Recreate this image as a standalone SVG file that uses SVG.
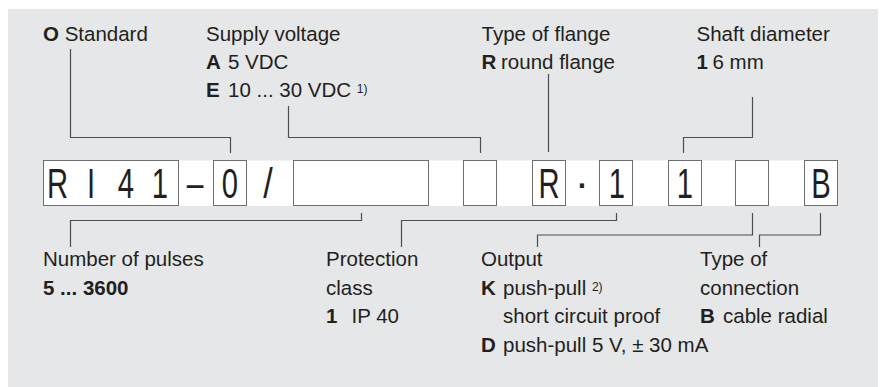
<svg xmlns="http://www.w3.org/2000/svg" width="882" height="387" viewBox="0 0 882 387">
<style>
text{font-family:"Liberation Sans",Arial,sans-serif;fill:#231f20}
.t{font-size:20.5px}
.b{font-weight:bold}
.sup{font-size:12px}
.big{font-size:43px;text-anchor:middle}
.box{fill:#fff;stroke:#6d6e70;stroke-width:1}
.ln{fill:none;stroke:#4d4d4f;stroke-width:1.2}
</style>
<rect x="8" y="9" width="870" height="378" fill="#e6e7e8"/>
<rect x="43" y="160.5" width="795" height="45.5" fill="#fff"/>

<g id="code">
  <g id="box-ri41">
    <rect class="box" x="43.5" y="160.5" width="135" height="45"/>
    <text class="big" transform="translate(57.5,198) scale(0.68,1)">R</text>
    <text class="big" transform="translate(91,198) scale(0.68,1)">I</text>
    <text class="big" transform="translate(126,198) scale(0.68,1)">4</text>
    <text class="big" transform="translate(160,198) scale(0.68,1)">1</text>
  </g>
  <text class="big" transform="translate(195,197) scale(0.75,1)" style="font-size:40px">–</text>
  <g id="box-0">
    <rect class="box" x="213.5" y="160.5" width="33" height="45"/>
    <text class="big" transform="translate(230,198) scale(0.68,1)">0</text>
  </g>
  <text class="big" transform="translate(268,198) scale(0.8,1)">/</text>
  <g id="box-pulses">
    <rect class="box" x="293.5" y="160.5" width="135" height="45"/>
  </g>
  <g id="box-supply">
    <rect class="box" x="463.5" y="160.5" width="33" height="45"/>
  </g>
  <g id="box-flange">
    <rect class="box" x="532.5" y="160.5" width="33" height="45"/>
    <text class="big" transform="translate(549,198) scale(0.68,1)">R</text>
  </g>
  <text class="big" x="582" y="197">·</text>
  <g id="box-protection">
    <rect class="box" x="599.5" y="160.5" width="33" height="45"/>
    <text class="big" transform="translate(617,198) scale(0.68,1)">1</text>
  </g>
  <g id="box-shaft">
    <rect class="box" x="668.5" y="160.5" width="33" height="45"/>
    <text class="big" transform="translate(685,198) scale(0.68,1)">1</text>
  </g>
  <g id="box-output">
    <rect class="box" x="735.5" y="160.5" width="33" height="45"/>
  </g>
  <g id="box-connection">
    <rect class="box" x="804.5" y="160.5" width="33" height="45"/>
    <text class="big" transform="translate(821,198) scale(0.68,1)">B</text>
  </g>
</g>

<g id="connectors">
  <polyline class="ln" points="70.5,49 70.5,137.5 230.5,137.5 230.5,153"/>
  <polyline class="ln" points="288.5,106 288.5,137.5 480.5,137.5 480.5,153"/>
  <polyline class="ln" points="548.5,74 548.5,152"/>
  <polyline class="ln" points="752.5,97 752.5,137.5 683.5,137.5 683.5,153"/>
  <polyline class="ln" points="361.5,213 361.5,220.5 70.5,220.5 70.5,247"/>
  <polyline class="ln" points="616.5,213 616.5,220.5 401.5,220.5 401.5,247"/>
  <polyline class="ln" points="752.5,213 752.5,235 537.5,235 537.5,247"/>
  <polyline class="ln" points="820.5,213 820.5,235 759.5,235 759.5,247"/>
</g>

<g id="label-standard">
  <text class="t" x="43" y="40.5"><tspan class="b">O</tspan> Standard</text>
</g>
<g id="label-supply">
  <text class="t" x="206" y="40.5">Supply voltage</text>
  <text class="t" x="206" y="69"><tspan class="b">A</tspan><tspan x="228">5 VDC</tspan></text>
  <text class="t" x="206" y="97"><tspan class="b">E</tspan><tspan x="228">10 ... 30 VDC </tspan><tspan class="sup" dy="-4">1)</tspan></text>
</g>
<g id="label-flange">
  <text class="t" x="481.5" y="40.5">Type of flange</text>
  <text class="t" x="481.5" y="69"><tspan class="b">R</tspan><tspan x="501">round flange</tspan></text>
</g>
<g id="label-shaft">
  <text class="t" x="696.5" y="40.5">Shaft diameter</text>
  <text class="t" x="696.5" y="69"><tspan class="b">1</tspan><tspan x="712.5">6 mm</tspan></text>
</g>
<g id="label-pulses">
  <text class="t" x="43" y="266">Number of pulses</text>
  <text class="t b" x="43" y="294.5">5 ... 3600</text>
</g>
<g id="label-protection">
  <text class="t" x="326" y="266">Protection</text>
  <text class="t" x="326" y="294.5">class</text>
  <text class="t" x="326" y="323"><tspan class="b">1</tspan><tspan x="351.5">IP 40</tspan></text>
</g>
<g id="label-output">
  <text class="t" x="481" y="266">Output</text>
  <text class="t" x="481" y="294.5"><tspan class="b">K</tspan><tspan x="503">push-pull </tspan><tspan class="sup" dy="-4">2)</tspan></text>
  <text class="t" x="503" y="323">short circuit proof</text>
  <text class="t" x="481" y="351.5"><tspan class="b">D</tspan><tspan x="503">push-pull 5 V, ± 30 mA</tspan></text>
</g>
<g id="label-connection">
  <text class="t" x="700" y="266">Type of</text>
  <text class="t" x="700" y="294.5">connection</text>
  <text class="t" x="700" y="323"><tspan class="b">B</tspan><tspan x="723">cable radial</tspan></text>
</g>
</svg>
